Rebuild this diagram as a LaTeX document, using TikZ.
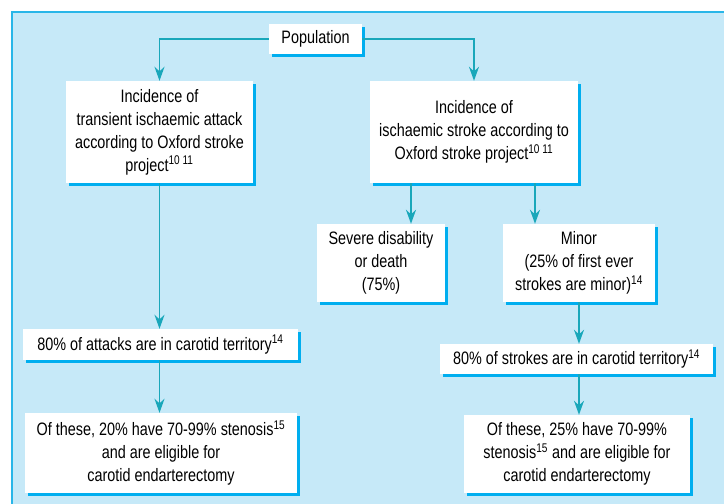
\documentclass[tikz,border=0pt]{standalone}
\usepackage{fontspec}
\setmainfont{Liberation Sans}[FakeStretch=0.8]
\usetikzlibrary{arrows.meta,shadows}
\definecolor{panelblue}{HTML}{C6E9F8}
\definecolor{rimblue}{HTML}{29B6E8}
\definecolor{shadeblue}{HTML}{00AEEF}
\definecolor{flowteal}{HTML}{19A7BA}
\begin{document}
\begin{tikzpicture}[x=1pt,y=-1pt,
    box/.style={fill=white,align=center,inner sep=0pt,font=\fontsize{18}{23}\selectfont,
      drop shadow={shadow xshift=3pt,shadow yshift=-3pt,fill=shadeblue,opacity=1}},
    flow/.style={draw=flowteal,line width=1.6pt,-{Stealth[length=14pt,width=10pt]}}]
  \useasboundingbox (0,0) rectangle (724,504);
  % panel
  \fill[panelblue] (12,12) rectangle (724,504);
  \draw[rimblue,line width=2pt] (12,504) -- (12,12) -- (724,12);
  % boxes
  \node[box,minimum width=93pt,minimum height=30pt] (pop) at (315.5,39) {Population};
  \node[box,minimum width=187pt,minimum height=102pt] (tia) at (159.5,132)
    {Incidence of\\transient ischaemic attack\\according to Oxford stroke\\project\textsuperscript{10 11}};
  \node[box,minimum width=208pt,minimum height=102pt] (isch) at (474,132)
    {Incidence of\\ischaemic stroke according to\\Oxford stroke project\textsuperscript{10 11}};
  \node[box,minimum width=128pt,minimum height=78pt] (sev) at (381,263)
    {Severe disability\\or death\\(75\%)};
  \node[box,minimum width=152pt,minimum height=78pt] (minor) at (579,263)
    {Minor\\(25\% of first ever\\strokes are minor)\textsuperscript{14}};
  \node[box,minimum width=275pt,minimum height=31pt] (att) at (160.5,344.5)
    {80\% of attacks are in carotid territory\textsuperscript{14}};
  \node[box,minimum width=272pt,minimum height=80pt] (tiaend) at (161,453)
    {Of these, 20\% have 70-99\% stenosis\textsuperscript{15}\\and are eligible for\\carotid endarterectomy};
  \node[box,minimum width=273pt,minimum height=30pt] (strk) at (576.5,359)
    {80\% of strokes are in carotid territory\textsuperscript{14}};
  \node[box,minimum width=226pt,minimum height=78pt] (strkend) at (577,454)
    {Of these, 25\% have 70-99\%\\stenosis\textsuperscript{15} and are eligible for\\carotid endarterectomy};
  % arrows
  \draw[flow] (pop.west) -| (tia.north);
  \draw[flow] (pop.east) -| (isch.north);
  \draw[flow] ([xshift=-63pt]isch.south) -- ([xshift=-63pt]isch.south |- sev.north);
  \draw[flow] ([xshift=61pt]isch.south) -- ([xshift=61pt]isch.south |- minor.north);
  \draw[flow] (tia.south) -- (tia.south |- att.north);
  \draw[flow] (att.south -| tia.south) -- (tia.south |- tiaend.north);
  \draw[flow] (minor.south) -- (minor.south |- strk.north);
  \draw[flow] (strk.south -| minor.south) -- (minor.south |- strkend.north);
\end{tikzpicture}
\end{document}
